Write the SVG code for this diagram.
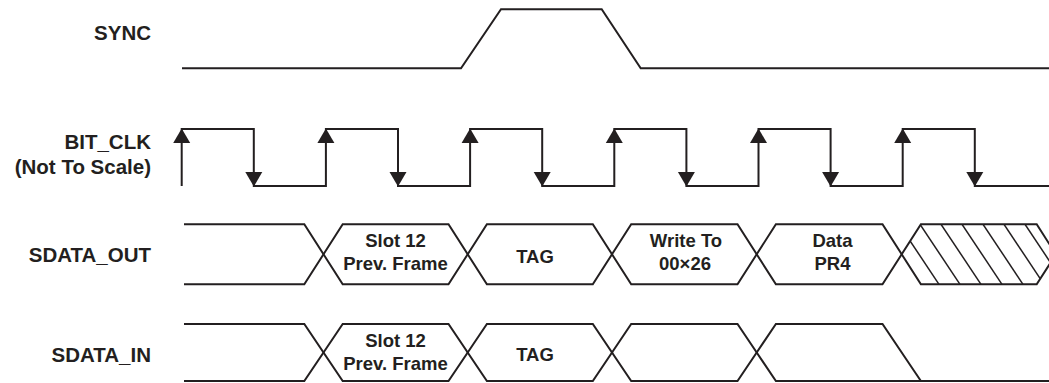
<svg xmlns="http://www.w3.org/2000/svg" width="1049" height="383" viewBox="0 0 1049 383">
<style>
.w{fill:none;stroke:#231f20;stroke-width:2;stroke-linejoin:miter}
.h{fill:none;stroke:#231f20;stroke-width:1.5}
.lb{font-family:"Liberation Sans",Arial,sans-serif;font-weight:bold;font-size:20.5px;fill:#231f20;text-anchor:end}
.ct{font-family:"Liberation Sans",Arial,sans-serif;font-weight:bold;font-size:18.5px;fill:#231f20;text-anchor:middle}
.ah{fill:#231f20}
</style>
<defs>
<clipPath id="hc"><polygon points="901.7,254.3 920.9,224.3 1036.7,224.3 1055.9,254.3 1036.7,284.3 920.9,284.3"/></clipPath>
<polygon id="up" class="ah" points="0,0 -8.5,14.5 8.5,14.5"/>
<polygon id="dn" class="ah" points="0,0 -8.5,-14.5 8.5,-14.5"/>
</defs>
<rect width="1049" height="383" fill="#fff"/>

<g id="sync">
<text class="lb" x="151" y="40">SYNC</text>
<polyline class="w" points="182,68.3 461,68.3 501,9.3 601.7,9.3 640.7,68.3 1049,68.3"/>
</g>

<g id="bit_clk">
<text class="lb" x="151" y="148.5">BIT_CLK</text>
<text class="lb" x="151" y="173.5">(Not To Scale)</text>
<polyline class="w" points="181.7,186 181.7,129 253.8,129 253.8,186 325.9,186 325.9,129 398,129 398,186 470.1,186 470.1,129 542.2,129 542.2,186 614.3,186 614.3,129 686.4,129 686.4,186 758.5,186 758.5,129 830.6,129 830.6,186 902.7,186 902.7,129 974.8,129 974.8,186 1049,186"/>
<use href="#up" x="181.7" y="128.5"/>
<use href="#dn" x="253.8" y="186.5"/>
<use href="#up" x="325.9" y="128.5"/>
<use href="#dn" x="398" y="186.5"/>
<use href="#up" x="470.1" y="128.5"/>
<use href="#dn" x="542.2" y="186.5"/>
<use href="#up" x="614.3" y="128.5"/>
<use href="#dn" x="686.4" y="186.5"/>
<use href="#up" x="758.5" y="128.5"/>
<use href="#dn" x="830.6" y="186.5"/>
<use href="#up" x="902.7" y="128.5"/>
<use href="#dn" x="974.8" y="186.5"/>
</g>

<g id="sdata_out">
<text class="lb" x="151" y="261.5">SDATA_OUT</text>
<polyline class="w" points="184,224.3 304.3,224.3 323.5,254.3 304.3,284.3 184,284.3"/>
<polygon class="w" points="323.5,254.3 342.7,224.3 448.5,224.3 467.7,254.3 448.5,284.3 342.7,284.3"/>
<polygon class="w" points="467.7,254.3 486.9,224.3 592.8,224.3 612,254.3 592.8,284.3 486.9,284.3"/>
<polygon class="w" points="612,254.3 631.2,224.3 737.5,224.3 756.7,254.3 737.5,284.3 631.2,284.3"/>
<polygon class="w" points="756.7,254.3 775.9,224.3 882.5,224.3 901.7,254.3 882.5,284.3 775.9,284.3"/>
<g clip-path="url(#hc)">
<line class="h" x1="878" y1="224.3" x2="918" y2="284.3"/>
<line class="h" x1="899" y1="224.3" x2="939" y2="284.3"/>
<line class="h" x1="920" y1="224.3" x2="960" y2="284.3"/>
<line class="h" x1="941" y1="224.3" x2="981" y2="284.3"/>
<line class="h" x1="962" y1="224.3" x2="1002" y2="284.3"/>
<line class="h" x1="983" y1="224.3" x2="1023" y2="284.3"/>
<line class="h" x1="1004" y1="224.3" x2="1044" y2="284.3"/>
<line class="h" x1="1025" y1="224.3" x2="1065" y2="284.3"/>
</g>
<polygon class="w" points="901.7,254.3 920.9,224.3 1036.7,224.3 1055.9,254.3 1036.7,284.3 920.9,284.3"/>
<text class="ct" x="395.5" y="246.5">Slot 12</text>
<text class="ct" x="395.5" y="270">Prev. Frame</text>
<text class="ct" x="535" y="263">TAG</text>
<text class="ct" x="686" y="246.5">Write To</text>
<text class="ct" x="685" y="270">00×26</text>
<text class="ct" x="832.5" y="246.5">Data</text>
<text class="ct" x="832.5" y="270">PR4</text>
</g>

<g id="sdata_in">
<text class="lb" x="151" y="361.5">SDATA_IN</text>
<polyline class="w" points="184,324 304.3,324 323.5,352.5 304.3,381 184,381"/>
<polygon class="w" points="323.5,352.5 342.7,324 448.5,324 467.7,352.5 448.5,381 342.7,381"/>
<polygon class="w" points="467.7,352.5 486.9,324 592.8,324 612,352.5 592.8,381 486.9,381"/>
<polygon class="w" points="612,352.5 631.2,324 737.5,324 756.7,352.5 737.5,381 631.2,381"/>
<polyline class="w" points="1049,381 775.9,381 756.7,352.5 775.9,324 882.5,324 920.9,381"/>
<text class="ct" x="395.5" y="346.5">Slot 12</text>
<text class="ct" x="395.5" y="370">Prev. Frame</text>
<text class="ct" x="535" y="361">TAG</text>
</g>
</svg>
